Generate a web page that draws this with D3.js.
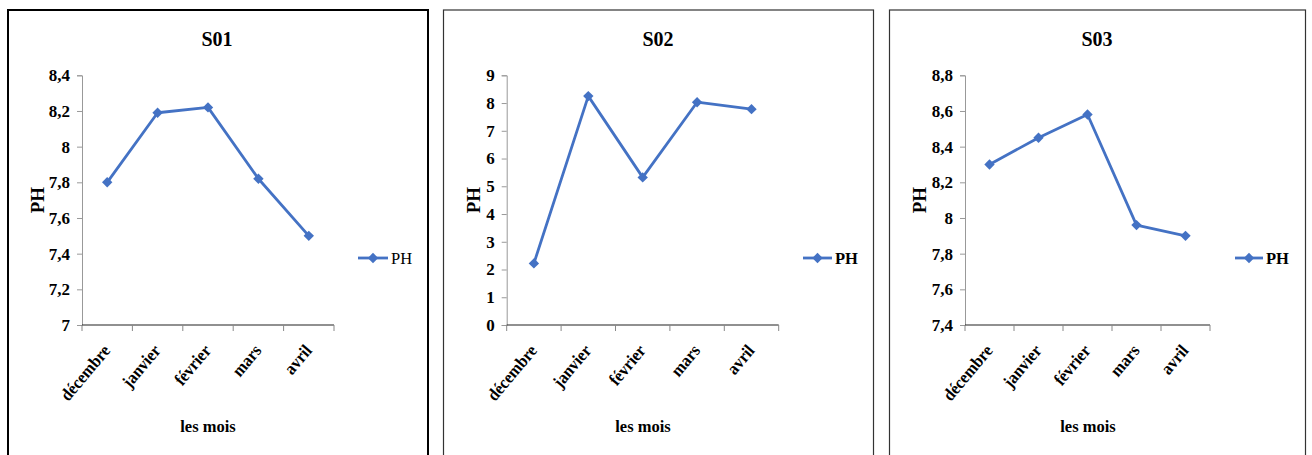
<!DOCTYPE html>
<html>
<head>
<meta charset="utf-8">
<script src="https://cdn.jsdelivr.net/npm/d3@7"></script>
<style>
  html, body { margin: 0; padding: 0; background: #fff; }
  svg { display: block; }
  text { font-family: "Liberation Serif", "Times New Roman", serif; fill: #000; }
</style>
</head>
<body>
<svg id="chart" width="1312" height="455"></svg>
<script>
// Monthly pH readings at three sampling stations
const months = ["décembre", "janvier", "février", "mars", "avril"];
const stations = ["S01", "S02", "S03"];
const phS01 = [7.8, 8.19, 8.22, 7.82, 7.5];
const phS02 = [2.22, 8.25, 5.32, 8.03, 7.78];
const phS03 = [8.3, 8.45, 8.58, 7.96, 7.9];
const ticksS01 = [7, 7.2, 7.4, 7.6, 7.8, 8, 8.2, 8.4];
const ticksS02 = [0, 1, 2, 3, 4, 5, 6, 7, 8, 9];
const ticksS03 = [7.4, 7.6, 7.8, 8, 8.2, 8.4, 8.6, 8.8];
const seriesName = "PH";
const xTitle = "les mois";
const yTitle = "PH";

const values = [phS01, phS02, phS03];
const tickSets = [ticksS01, ticksS02, ticksS03];

// Panel layout
const panels = [
  { box: [8, 10, 420, 460], boxStroke: "#000", boxWidth: 2,
    plot: [82, 334, 75.3, 325], yTitleX: 37, titleX: 217, xTitleX: 208,
    legend: [358, 388, 258], legendBold: false },
  { box: [443.5, 10, 430, 460], boxStroke: "#333", boxWidth: 1.2,
    plot: [506.7, 778.7, 75.3, 325], yTitleX: 473.5, titleX: 658, xTitleX: 643,
    legend: [803, 832, 258], legendBold: true },
  { box: [889.5, 10, 416, 460], boxStroke: "#333", boxWidth: 1.2,
    plot: [965, 1210, 75.3, 325], yTitleX: 919.5, titleX: 1097, xTitleX: 1088,
    legend: [1235, 1263, 258], legendBold: true }
];

const blue = "#4472C4";
const svg = d3.select("#chart");
const fmt = v => String(v).replace(".", ",");
const diamond = d3.symbol().type(d3.symbolSquare).size(54);

panels.forEach((p, i) => {
  const g = svg.append("g");
  const [bx, by, bw, bh] = p.box;
  g.append("rect")
    .attr("x", bx).attr("y", by).attr("width", bw).attr("height", bh)
    .attr("fill", "#fff").attr("stroke", p.boxStroke).attr("stroke-width", p.boxWidth);

  const [x0, x1, yTop, yBot] = p.plot;
  const ticks = tickSets[i];
  const x = d3.scaleBand().domain(months).range([x0, x1]).padding(0);
  const y = d3.scaleLinear().domain([ticks[0], ticks[ticks.length - 1]]).range([yBot, yTop]);

  // y axis
  const yAxis = g.append("g").attr("transform", `translate(${x0},0)`)
    .call(d3.axisLeft(y).tickValues(ticks).tickSize(5).tickPadding(7).tickFormat(fmt));
  yAxis.select(".domain").attr("stroke", "#999");
  yAxis.selectAll(".tick line").attr("stroke", "#999");
  yAxis.selectAll(".tick text")
    .style("font-family", '"Liberation Serif", serif')
    .style("font-weight", "bold").style("font-size", "17px").attr("fill", "#000");

  // x axis with boundary ticks between categories
  const xAxis = g.append("g").attr("transform", `translate(0,${yBot})`);
  const bounds = months.map(m => x(m)).concat([x1]);
  xAxis.append("line").attr("x1", x0).attr("x2", x1).attr("y1", 0).attr("y2", 0)
    .attr("stroke", "#222").attr("stroke-width", 1.2);
  xAxis.selectAll("line.tk").data(bounds).enter().append("line").attr("class", "tk")
    .attr("x1", d => d).attr("x2", d => d).attr("y1", 0).attr("y2", 6)
    .attr("stroke", "#888");
  xAxis.selectAll("text").data(months).enter().append("text")
    .attr("transform", d => `translate(${x(d) + x.bandwidth() / 2 + 4},${26}) rotate(-50) scale(0.92,1)`)
    .attr("text-anchor", "end")
    .style("font-weight", "bold").style("font-size", "17.5px")
    .text(d => d);

  // line + markers
  const cx = d => x(d) + x.bandwidth() / 2;
  const line = d3.line().x((d, j) => cx(months[j])).y(d => y(d));
  g.append("path").datum(values[i]).attr("d", line)
    .attr("fill", "none").attr("stroke", blue).attr("stroke-width", 2.8)
    .attr("stroke-linejoin", "round");
  g.selectAll("path.pt").data(values[i]).enter().append("path").attr("class", "pt")
    .attr("d", diamond)
    .attr("transform", (d, j) => `translate(${cx(months[j])},${y(d)}) rotate(45)`)
    .attr("fill", blue);

  // titles
  g.append("text").attr("x", p.titleX).attr("y", 46).attr("text-anchor", "middle")
    .style("font-weight", "bold").style("font-size", "20px").text(stations[i]);
  g.append("text").attr("x", p.xTitleX).attr("y", 432).attr("text-anchor", "middle")
    .style("font-weight", "bold").style("font-size", "16.5px").text(xTitle);
  g.append("text")
    .attr("transform", `translate(${p.yTitleX},${(yTop + yBot) / 2}) rotate(-90)`)
    .attr("text-anchor", "middle").attr("dominant-baseline", "central")
    .style("font-weight", "bold").style("font-size", "19px").text(yTitle);

  // legend
  const [lx0, lx1, ly] = p.legend;
  g.append("line").attr("x1", lx0).attr("x2", lx1).attr("y1", ly).attr("y2", ly)
    .attr("stroke", blue).attr("stroke-width", 2.8);
  g.append("path").attr("d", diamond)
    .attr("transform", `translate(${(lx0 + lx1) / 2},${ly}) rotate(45)`).attr("fill", blue);
  g.append("text").attr("x", lx1 + 3).attr("y", ly).attr("dominant-baseline", "central")
    .style("font-weight", p.legendBold ? "bold" : "normal").style("font-size", "16.5px")
    .text(seriesName);
});
</script>
</body>
</html>
